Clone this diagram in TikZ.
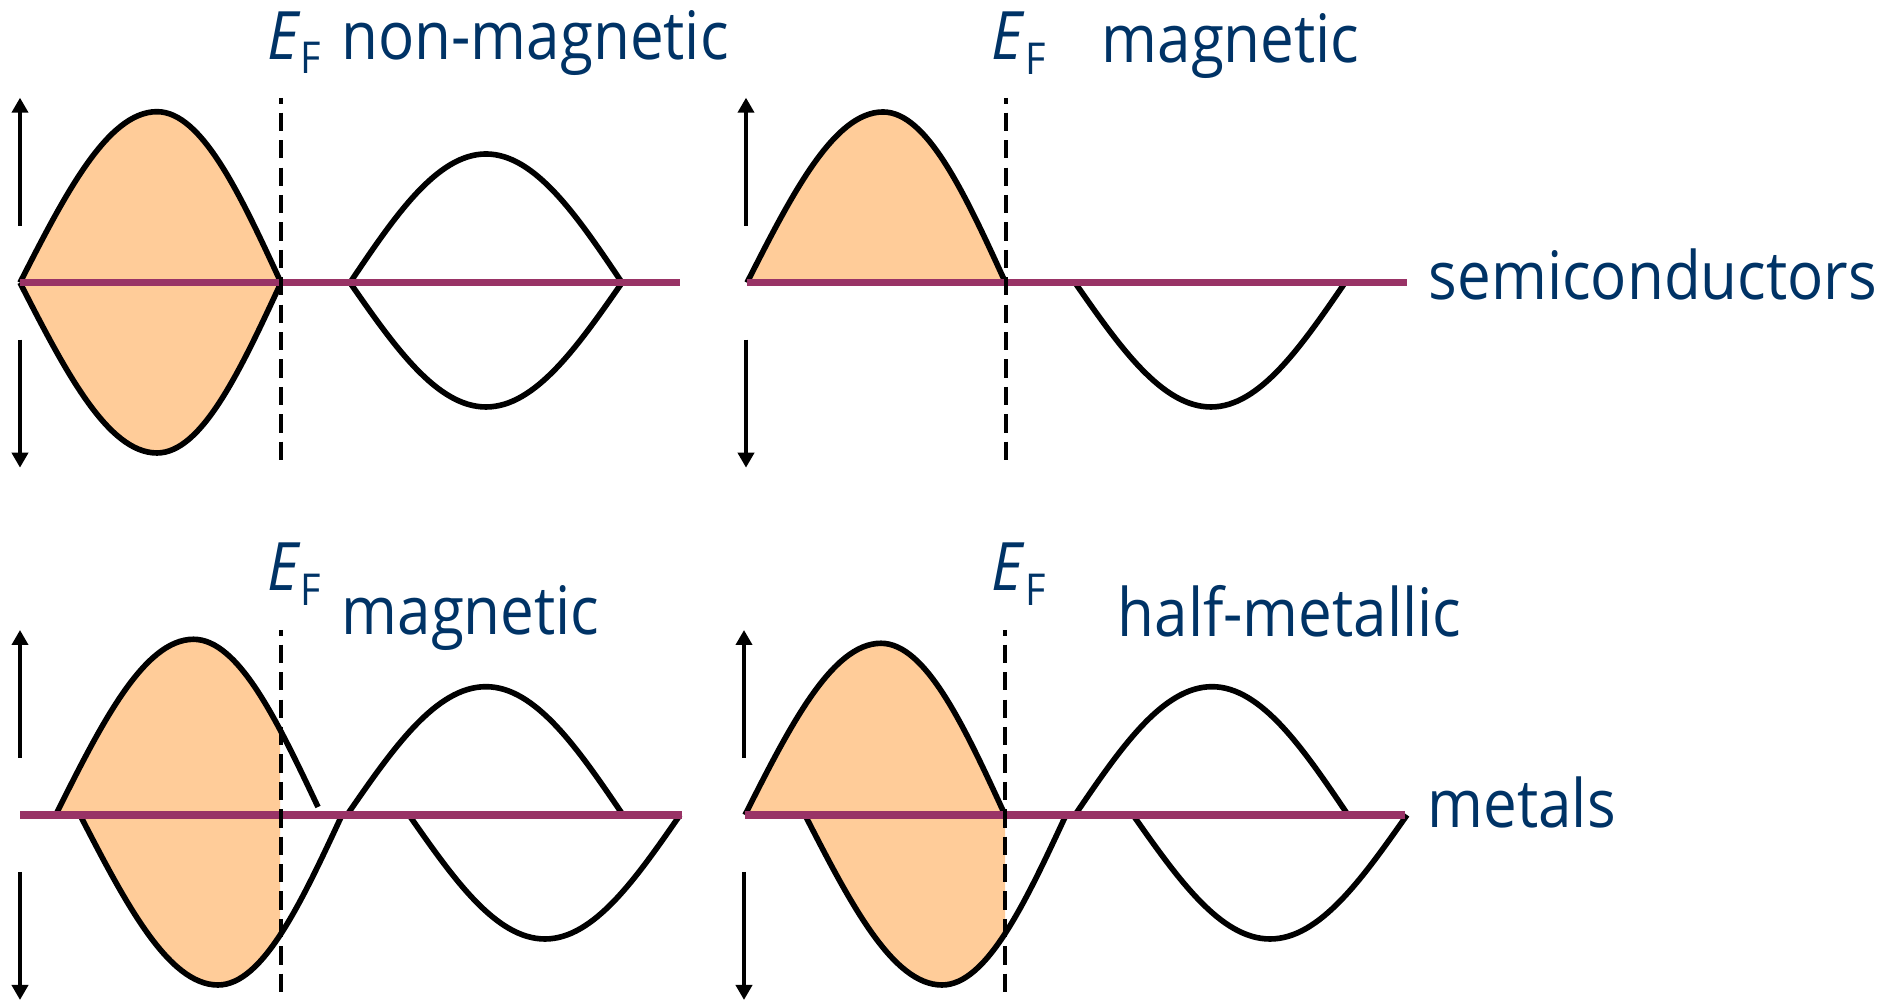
\documentclass[tikz,border=0pt]{standalone}
\usepackage{xcolor}
\usepackage{fontspec}
\setmainfont[FakeStretch=0.9]{Open Sans}
\usepackage{tikz}
\usetikzlibrary{arrows.meta}

\definecolor{textblue}{RGB}{0,51,102}
\definecolor{levelred}{RGB}{153,51,102}
\definecolor{filled}{RGB}{255,204,153}

\newcommand{\EF}{\textit{E}\raisebox{-0.147cm}{\fontsize{12.5pt}{12.5pt}\selectfont F}}

\begin{document}
\begin{tikzpicture}[
  band/.style={line width=1.6pt, line join=round},
  level/.style={levelred, line width=2.1pt},
  fermi/.style={line width=0.9pt, dash pattern=on 5.2pt off 2.6pt, dash phase=3.6pt},
  spin/.style={line width=1.2pt, -{Triangle[length=1.5mm,width=1.6mm]}},
  lbl/.style={textblue, anchor=base west, inner sep=0pt, font=\fontsize{19pt}{19pt}\selectfont}]
\useasboundingbox (0,0) rectangle (18.77,10);

\def\yTop{7.173}
\def\yBot{1.85}

%% orange (occupied) part of the bands %%%%%%%%%%%%%%
\fill[filled] (0.20,\yTop) sin (1.57,8.883) cos (2.81,\yTop) sin (1.57,5.47) cos (0.20,\yTop) -- cycle;
\fill[filled] (7.47,\yTop) sin (8.83,8.88) cos (10.055,\yTop) -- cycle;
\begin{scope}
\clip (0,0) rectangle (2.80,4);
\fill[filled] (0.557,\yBot) sin (1.935,3.607) cos (3.18,1.93) -- (3.18,\yBot) -- cycle;
\fill[filled] (0.80,\yBot) sin (2.18,0.15) cos (3.42,\yBot) -- cycle;
\end{scope}
\begin{scope}
\clip (7,0) rectangle (10.05,4);
\fill[filled] (7.45,\yBot) sin (8.81,3.567) cos (10.05,\yBot) -- cycle;
\fill[filled] (8.05,\yBot) sin (9.42,0.15) cos (10.66,\yBot) -- cycle;
\end{scope}

%% bands: non-magnetic semiconductor
\draw[band] (0.20,\yTop) sin (1.57,8.883) cos (2.81,\yTop);
\draw[band] (0.20,\yTop) sin (1.57,5.47) cos (2.81,\yTop);
\draw[band] (3.50,\yTop) sin (4.86,8.46) cos (6.22,\yTop);
\draw[band] (3.50,\yTop) sin (4.86,5.93) cos (6.22,\yTop);
%% bands: magnetic semiconductor
\draw[band] (7.47,\yTop) sin (8.83,8.88) cos (10.055,\yTop);
\draw[band] (10.75,\yTop) sin (12.11,5.93) cos (13.45,\yTop);
%% bands: magnetic metal
\draw[band] (0.557,\yBot) sin (1.935,3.607) cos (3.18,1.93);
\draw[band] (0.80,\yBot) sin (2.18,0.15) cos (3.42,\yBot);
\draw[band] (3.47,\yBot) sin (4.86,3.133) cos (6.23,\yBot);
\draw[band] (4.09,\yBot) sin (5.45,0.61) cos (6.80,\yBot);
%% bands: half-metal
\draw[band] (7.45,\yBot) sin (8.81,3.567) cos (10.05,\yBot);
\draw[band] (8.05,\yBot) sin (9.42,0.15) cos (10.66,\yBot);
\draw[band] (10.75,\yBot) sin (12.12,3.133) cos (13.48,\yBot);
\draw[band] (11.33,\yBot) sin (12.70,0.61) cos (14.07,\yBot);

%% energy zero lines
\draw[level] (0.20,\yTop) -- (6.80,\yTop);
\draw[level] (7.47,\yTop) -- (14.07,\yTop);
\draw[level] (0.20,\yBot) -- (6.82,\yBot);
\draw[level] (7.45,\yBot) -- (14.05,\yBot);

%% Fermi level
\draw[fermi] (2.81,9.02) -- (2.81,5.32);
\draw[fermi] (10.06,9.02) -- (10.06,5.32);
\draw[fermi] (2.81,3.70) -- (2.81,0);
\draw[fermi] (10.05,3.70) -- (10.05,0);

%% spin up / spin down arrows
\foreach \x/\y in {0.20/\yTop, 7.46/\yTop, 0.20/\yBot, 7.44/\yBot}{
\draw[spin] (\x,\y+0.57) -- (\x,\y+1.85);
\draw[spin] (\x,\y-0.57) -- (\x,\y-1.85);
}

%% labels
\node[lbl] (efNM) at (2.666,9.407) {\EF};
\node[lbl] (tNM) at (3.407,9.407) {non-magnetic};
\node[lbl] (efMS) at (9.91,9.40) {\EF};
\node[lbl] (tMS) at (11.01,9.37) {magnetic};
\node[lbl] (efMM) at (2.666,4.093) {\EF};
\node[lbl] (tMM) at (3.41,3.65) {magnetic};
\node[lbl] (efHM) at (9.91,4.093) {\EF};
\node[lbl] (tHM) at (11.17,3.63) {half-metallic};
\node[lbl] (semi) at (14.28,7.007) {semiconductors};
\node[lbl] (metal) at (14.27,1.72) {metals};
\end{tikzpicture}
\end{document}
